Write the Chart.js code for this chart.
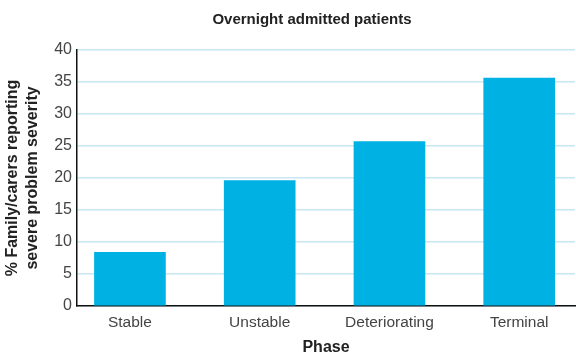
<!DOCTYPE html>
<html>
<head>
<meta charset="utf-8">
<script src="https://cdn.jsdelivr.net/npm/chart.js@4/dist/chart.umd.min.js"></script>
<style>
  html, body { margin: 0; padding: 0; background: #fff; }
  #wrap { width: 576px; height: 358px; position: relative; }
</style>
</head>
<body>
<div id="wrap"><canvas id="c" width="576" height="358"></canvas></div>
<script>
// Phases and the share of family/carers reporting severe problem severity (%)
const phases = ['Stable', 'Unstable', 'Deteriorating', 'Terminal'];
const severePct = [8.4, 19.6, 25.7, 35.6];
const yTicks = [0, 5, 10, 15, 20, 25, 30, 35, 40];

const chartTitle = 'Overnight admitted patients';
const yTitle = ['% Family/carers reporting', 'severe problem severity'];
const xTitle = 'Phase';

const FONT = "'Liberation Sans', Arial, Helvetica, sans-serif";

// Heading drawn above the plot area
const headingPlugin = {
  id: 'heading',
  afterDraw(chart) {
    const { ctx, chartArea } = chart;
    ctx.save();
    ctx.font = 'bold 15px ' + FONT;
    ctx.fillStyle = '#222';
    ctx.textAlign = 'center';
    ctx.textBaseline = 'middle';
    ctx.fillText(chartTitle, (chartArea.left + chartArea.right) / 2 - 14, 20);
    ctx.restore();
  }
};

new Chart(document.getElementById('c'), {
  type: 'bar',
  data: {
    datasets: [{
      data: phases.map((p, i) => ({ x: i, y: severePct[i] })),
      backgroundColor: '#00b2e3',
      borderWidth: 0,
      barThickness: 71
    }]
  },
  options: {
    responsive: false,
    animation: false,
    layout: { padding: { top: 50, right: 1, bottom: 0, left: 0 } },
    plugins: {
      legend: { display: false },
      tooltip: { enabled: false },
      title: { display: false }
    },
    scales: {
      x: {
        type: 'linear',
        offset: false,
        min: -0.408,
        max: 3.43,
        afterBuildTicks(scale) {
          scale.ticks = phases.map((p, i) => ({ value: i }));
        },
        afterFit(scale) { scale.height = 52; },
        grid: { display: false, drawTicks: false, offset: false },
        border: { display: true, color: '#111', width: 1.5 },
        ticks: {
          padding: 7,
          color: '#444',
          font: { family: FONT, size: 15.5 },
          maxRotation: 0,
          autoSkip: false,
          callback: (v) => phases[v] ?? ''
        },
        title: {
          display: true,
          text: xTitle,
          color: '#222',
          font: { family: FONT, size: 16, weight: 'bold' },
          padding: { top: 0, bottom: 1 }
        }
      },
      y: {
        min: 0,
        max: 40,
        afterBuildTicks(scale) {
          scale.ticks = yTicks.map(v => ({ value: v }));
        },
        afterFit(scale) { scale.width = 77; },
        grid: { color: '#c9e7f3', lineWidth: 1.5, drawTicks: false },
        border: { display: true, color: '#111', width: 1.5 },
        ticks: {
          padding: 5,
          color: '#444',
          font: { family: FONT, size: 16 }
        },
        title: {
          display: true,
          text: yTitle,
          color: '#222',
          font: { family: FONT, size: 16, weight: 'bold', lineHeight: 1.25 },
          padding: { top: 3, bottom: 0 }
        }
      }
    }
  },
  plugins: [headingPlugin]
});
</script>
</body>
</html>
